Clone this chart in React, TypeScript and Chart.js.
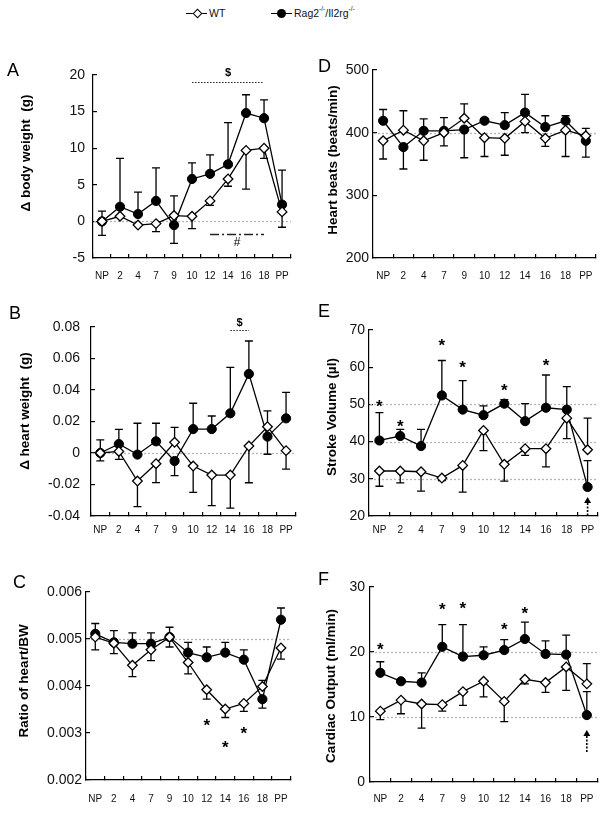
import React, { useEffect, useRef } from 'react';
import { Chart, registerables } from 'chart.js';

Chart.register(...registerables);

const FONT = "'Liberation Sans', Arial, Helvetica, sans-serif";

const categories = ['NP', '2', '4', '7', '9', '10', '12', '14', '16', '18', 'PP'];

// Panel A: Δ body weight (g)
const aWT = [0, 0.7, -0.5, -0.3, 0.8, 0.7, 2.8, 5.8, 9.7, 10.0, 1.3];
const aWTErr = [-1.9, 0, 0, -1.1, 2.7, -1.7, -0.6, -1.0, -5.3, -1.4, -2.1];
const aRag = [0, 2.0, 1.0, 2.8, -0.5, 5.8, 6.5, 7.8, 14.8, 14.1, 2.3];
const aRagErr = [1.4, 6.6, 3.0, 4.5, -2.5, 2.2, 2.6, 5.7, 2.5, 2.5, 4.7];

// Panel D: Heart beats (beats/min)
const dWT = [387, 404, 387, 400, 423, 392, 391, 418, 391, 404, 395];
const dWTErr = [-29, 31, -31, -21, 23, -30, -27, -18, -13, -42, 12];
const dRag = [419, 377, 403, 403, 405, 419, 412, 432, 409, 419, 387];
const dRagErr = [18, -35, 19, 21, -45, 3, 20, 29, 18, 8, -26];

// Panel B: Δ heart weight (g)
const bWT = [0, 0.001, -0.0178, -0.0068, 0.0068, -0.0083, -0.014, -0.014, 0.0044, 0.0167, 0.0015];
const bWTErr = [-0.005, -0.005, -0.0163, -0.012, 0.0095, -0.0167, -0.0194, -0.021, -0.0233, 0.01, -0.0117];
const bRag = [0, 0.0057, -0.001, 0.0074, -0.0051, 0.0152, 0.0152, 0.0252, 0.0502, 0.0104, 0.022];
const bRagErr = [0.0083, 0.0093, 0.0199, 0.0115, -0.0093, 0.0164, 0.0083, 0.0292, 0.0209, -0.0112, 0.0165];

// Panel E: Stroke Volume (µl)
const eWT = [32.1, 32.1, 31.9, 30.2, 33.6, 43.0, 33.9, 38.1, 38.1, 46.3, 37.8];
const eWTErr = [-4.1, -3.2, -5.2, -0.7, -7.2, -5.4, -4.5, -1.8, -4.9, -5.5, 8.5];
const eRag = [40.3, 41.5, 38.8, 52.4, 48.6, 47.1, 50.2, 45.5, 49.1, 48.6, 27.8];
const eRagErr = [7.5, 1.8, 4.5, 9.4, 7.8, 2.5, 1.1, 4.7, 8.8, 6.2, 7.1];
const eStarCats = ['NP', '2', '7', '9', '12', '16'];
const eStarY = [50.5, 45.2, 66.9, 61.0, 54.8, 61.7];

// Panel C: Ratio of heart/BW
const cWT = [0.00504, 0.00491, 0.00444, 0.00477, 0.00504, 0.0045, 0.00392, 0.00351, 0.00363, 0.00399, 0.00481];
const cWTErr = [-0.00027, -0.00022, -0.00024, -0.00023, -0.00021, -0.00024, -0.0002, -0.00018, -0.00017, 0.00013, -0.00024];
const cRag = [0.00511, 0.00493, 0.0049, 0.0049, 0.00504, 0.00471, 0.00461, 0.00471, 0.00456, 0.00372, 0.00541];
const cRagErr = [0.00022, 0.00025, 0.00023, 0.00023, 0.00021, 0.00022, 0.00022, 0.00022, 0.00021, -0.00019, 0.00025];
const cStarCats = ['12', '14', '16'];
const cStarY = [0.00324, 0.00278, 0.00307];

// Panel F: Cardiac Output (ml/min)
const fWT = [10.9, 12.6, 12.0, 11.9, 13.9, 15.5, 12.4, 15.8, 15.3, 17.7, 15.1];
const fWTErr = [-1.3, -2.1, -3.7, -1.0, -2.1, -2.4, -3.1, -0.7, -1.5, -3.6, 3.1];
const fRag = [16.8, 15.5, 15.3, 20.8, 19.3, 19.5, 20.3, 22.0, 19.7, 19.6, 10.3];
const fRagErr = [1.7, 0.4, 1.5, 3.4, 4.9, 1.3, 1.6, 2.6, 2.0, 3.0, 3.6];
const fStarCats = ['NP', '7', '9', '12', '14'];
const fStarY = [21.0, 27.2, 27.4, 24.1, 26.5];

type Sig = { from: string; to: string; y: number; label: string; labelY: number; kind: 'dot' | 'dashdot' };
type Arrow = { cat: string; tip: number; end: number };
type PanelDef = {
  key: string;
  box: { x: number; y: number; w: number; h: number };
  plot: { left: number; right: number; top: number; bottom: number };
  yMin: number; yMax: number; yStep: number; dec: number;
  wt: number[]; wtErr: number[]; rag: number[]; ragErr: number[];
  refLines: number[];
  letter: { x: number; y: number };
  title: { t: string; x: number; y: number };
  yGap: number; xOff: number;
  starCats?: string[]; starY?: number[];
  sigs?: Sig[];
  arrow?: Arrow;
};

const panels: PanelDef[] = [
  {
    key: 'A', box: { x: 0, y: 50, w: 305, h: 250 }, plot: { left: 93, right: 302, top: 75, bottom: 258 },
    yMin: -5, yMax: 20, yStep: 5, dec: 0, wt: aWT, wtErr: aWTErr, rag: aRag, ragErr: aRagErr,
    refLines: [0], letter: { x: 7, y: 76 }, title: { t: 'Δ body weight  (g)', x: 26, y: 153 },
    yGap: 8, xOff: 18,
    sigs: [
      { from: '10', to: '18', y: 19.05, label: '$', labelY: 20.3, kind: 'dot' },
      { from: '12', to: '18', y: -1.72, label: '#', labelY: -2.85, kind: 'dashdot' },
    ],
  },
  {
    key: 'D', box: { x: 305, y: 50, w: 304, h: 250 }, plot: { left: 373, right: 598, top: 70, bottom: 258 },
    yMin: 200, yMax: 500, yStep: 100, dec: 0, wt: dWT, wtErr: dWTErr, rag: dRag, ragErr: dRagErr,
    refLines: [400], letter: { x: 318, y: 72 }, title: { t: 'Heart beats (beats/min)', x: 333, y: 160 },
    yGap: 4, xOff: 18,
  },
  {
    key: 'B', box: { x: 0, y: 300, w: 305, h: 245 }, plot: { left: 91, right: 302, top: 327, bottom: 516 },
    yMin: -0.04, yMax: 0.08, yStep: 0.02, dec: 2, wt: bWT, wtErr: bWTErr, rag: bRag, ragErr: bRagErr,
    refLines: [0], letter: { x: 9, y: 319 }, title: { t: 'Δ heart weight  (g)', x: 25, y: 411 },
    yGap: 11, xOff: 14,
    sigs: [{ from: '14', to: '16', y: 0.0781, label: '$', labelY: 0.0826, kind: 'dot' }],
  },
  {
    key: 'E', box: { x: 305, y: 300, w: 304, h: 245 }, plot: { left: 369, right: 598, top: 330, bottom: 516 },
    yMin: 20, yMax: 70, yStep: 10, dec: 0, wt: eWT, wtErr: eWTErr, rag: eRag, ragErr: eRagErr,
    refLines: [30, 40, 50], letter: { x: 318, y: 317 }, title: { t: 'Stroke Volume (µl)', x: 332, y: 417 },
    yGap: 4, xOff: 14, starCats: eStarCats, starY: eStarY,
    arrow: { cat: 'PP', tip: 25.1, end: 20 },
  },
  {
    key: 'C', box: { x: 0, y: 545, w: 305, h: 268 }, plot: { left: 86, right: 297, top: 592, bottom: 780 },
    yMin: 0.002, yMax: 0.006, yStep: 0.001, dec: 3, wt: cWT, wtErr: cWTErr, rag: cRag, ragErr: cRagErr,
    refLines: [0.005], letter: { x: 13, y: 588 }, title: { t: 'Ratio of heart/BW', x: 24, y: 681 },
    yGap: 4, xOff: 19, starCats: cStarCats, starY: cStarY,
  },
  {
    key: 'F', box: { x: 305, y: 545, w: 304, h: 268 }, plot: { left: 370, right: 598, top: 587, bottom: 782 },
    yMin: 0, yMax: 30, yStep: 10, dec: 0, wt: fWT, wtErr: fWTErr, rag: fRag, ragErr: fRagErr,
    refLines: [10, 20], letter: { x: 318, y: 585 }, title: { t: 'Cardiac Output (ml/min)', x: 331, y: 686 },
    yGap: 5, xOff: 17, starCats: fStarCats, starY: fStarY,
    arrow: { cat: 'PP', tip: 8.0, end: 4.6 },
  },
];

function makeDecor(p: PanelDef) {
  const ox = p.box.x;
  const oy = p.box.y;
  return {
    id: 'decor' + p.key,
    beforeDatasetsDraw(chart: any) {
      const { ctx, chartArea, scales } = chart;
      const x = scales.x;
      const y = scales.y;
      ctx.save();
      ctx.strokeStyle = '#b4b4b4';
      ctx.lineWidth = 1.3;
      ctx.setLineDash([2, 2]);
      for (const v of p.refLines) {
        const py = Math.round(y.getPixelForValue(v)) + 0.5;
        ctx.beginPath();
        ctx.moveTo(chartArea.left + 1, py);
        ctx.lineTo(chartArea.right, py);
        ctx.stroke();
      }
      ctx.restore();
      ctx.save();
      ctx.strokeStyle = '#000';
      ctx.lineWidth = 1.3;
      const series: [number[], number[]][] = [[p.wt, p.wtErr], [p.rag, p.ragErr]];
      for (const [vals, errs] of series) {
        vals.forEach((v, i) => {
          const e = errs[i];
          if (!e) return;
          const px = x.getPixelForValue(i);
          const p0 = y.getPixelForValue(v);
          const p1 = y.getPixelForValue(v + e);
          ctx.beginPath();
          ctx.moveTo(px, p0);
          ctx.lineTo(px, p1);
          ctx.moveTo(px - 4, p1);
          ctx.lineTo(px + 4, p1);
          ctx.stroke();
        });
      }
      ctx.restore();
    },
    afterDraw(chart: any) {
      const { ctx, scales } = chart;
      const x = scales.x;
      const y = scales.y;
      ctx.save();
      ctx.fillStyle = '#000';
      // panel letter
      ctx.font = `18px ${FONT}`;
      ctx.textAlign = 'left';
      ctx.textBaseline = 'alphabetic';
      ctx.fillText(p.key, p.letter.x - ox, p.letter.y - oy);
      // y title
      ctx.save();
      ctx.translate(p.title.x - ox, p.title.y - oy);
      ctx.rotate(-Math.PI / 2);
      ctx.font = `bold 13.5px ${FONT}`;
      ctx.textAlign = 'center';
      ctx.textBaseline = 'middle';
      ctx.fillText(p.title.t, 0, 0);
      ctx.restore();
      // stars
      if (p.starCats && p.starY) {
        ctx.font = `bold 17px ${FONT}`;
        ctx.textAlign = 'center';
        ctx.textBaseline = 'alphabetic';
        p.starCats.forEach((c, i) => {
          const px = x.getPixelForValue(categories.indexOf(c));
          const py = y.getPixelForValue(p.starY![i]);
          ctx.fillText('*', px, py + 17 * 0.57);
        });
      }
      // significance lines
      for (const s of p.sigs || []) {
        const x0 = x.getPixelForValue(categories.indexOf(s.from));
        const x1 = x.getPixelForValue(categories.indexOf(s.to));
        const py = Math.round(y.getPixelForValue(s.y)) + 0.5;
        ctx.save();
        ctx.strokeStyle = '#222';
        if (s.kind === 'dot') {
          ctx.lineWidth = 1;
          ctx.setLineDash([1.5, 1.5]);
        } else {
          ctx.lineWidth = 1.3;
          ctx.setLineDash([9, 3, 2, 3]);
        }
        ctx.beginPath();
        ctx.moveTo(x0, py);
        ctx.lineTo(x1, py);
        ctx.stroke();
        ctx.restore();
        ctx.font = s.label === '$' ? `bold 11px ${FONT}` : `12px ${FONT}`;
        ctx.textAlign = 'center';
        ctx.textBaseline = 'middle';
        ctx.fillText(s.label, (x0 + x1) / 2, y.getPixelForValue(s.labelY));
      }
      // arrow
      if (p.arrow) {
        const px = x.getPixelForValue(categories.indexOf(p.arrow.cat));
        const tip = y.getPixelForValue(p.arrow.tip);
        const end = y.getPixelForValue(p.arrow.end);
        ctx.beginPath();
        ctx.moveTo(px, tip);
        ctx.lineTo(px - 3.5, tip + 6);
        ctx.lineTo(px + 3.5, tip + 6);
        ctx.closePath();
        ctx.fill();
        ctx.save();
        ctx.strokeStyle = '#000';
        ctx.lineWidth = 1.6;
        ctx.setLineDash([2, 1.5]);
        ctx.beginPath();
        ctx.moveTo(px, tip + 6);
        ctx.lineTo(px, end);
        ctx.stroke();
        ctx.restore();
      }
      ctx.restore();
    },
  };
}

function Panel({ p }: { p: PanelDef }) {
  const ref = useRef<HTMLCanvasElement>(null);
  useEffect(() => {
    if (!ref.current) return;
    const yW = p.plot.left - p.box.x;
    const xH = p.box.y + p.box.h - p.plot.bottom;
    const chart = new Chart(ref.current, {
      type: 'line',
      data: {
        labels: categories,
        datasets: [
          {
            label: 'WT',
            data: p.wt,
            borderColor: '#000',
            borderWidth: 1.3,
            pointStyle: 'rectRot',
            pointRadius: 4.8,
            pointBackgroundColor: '#fff',
            pointBorderColor: '#000',
            pointBorderWidth: 1.3,
            tension: 0,
          },
          {
            label: 'Rag2-/-/Il2rg-/-',
            data: p.rag,
            borderColor: '#000',
            borderWidth: 1.3,
            pointStyle: 'circle',
            pointRadius: 4.6,
            pointBackgroundColor: '#000',
            pointBorderColor: '#000',
            pointBorderWidth: 1,
            tension: 0,
          },
        ],
      },
      options: {
        responsive: false,
        animation: false,
        devicePixelRatio: 1,
        layout: {
          padding: {
            left: 0,
            top: p.plot.top - p.box.y,
            right: p.box.x + p.box.w - p.plot.right,
            bottom: 0,
          },
        },
        plugins: { legend: { display: false }, tooltip: { enabled: false } },
        scales: {
          x: {
            type: 'category',
            offset: true,
            grid: { drawOnChartArea: false, color: '#000', tickLength: -4, lineWidth: 1.2, offset: true },
            border: { display: true, color: '#000', width: 1.2 },
            ticks: {
              autoSkip: false,
              maxRotation: 0,
              minRotation: 0,
              color: '#111',
              font: { size: 10, family: FONT },
              padding: p.xOff - 2,
            },
            afterFit: (s: any) => {
              s.height = xH;
            },
          },
          y: {
            min: p.yMin,
            max: p.yMax,
            grid: { drawOnChartArea: false, color: '#000', tickLength: -4, lineWidth: 1.2 },
            border: { display: true, color: '#000', width: 1.2 },
            ticks: {
              stepSize: p.yStep,
              color: '#111',
              font: { size: 14, family: FONT },
              padding: p.yGap + 4,
              callback: (v: any) => String(+Number(v).toFixed(p.dec + 1)),
            },
            afterFit: (s: any) => {
              s.width = yW;
            },
          },
        },
      },
      plugins: [makeDecor(p)],
    } as any);
    return () => chart.destroy();
  }, [p]);
  return (
    <canvas
      ref={ref}
      width={p.box.w}
      height={p.box.h}
      style={{ position: 'absolute', left: p.box.x, top: p.box.y, width: p.box.w, height: p.box.h }}
    />
  );
}

function Legend() {
  const txt: React.CSSProperties = {
    position: 'absolute',
    font: `10.5px ${FONT}`,
    color: '#111',
    lineHeight: '12px',
    top: 7,
    whiteSpace: 'nowrap',
  };
  const sup: React.CSSProperties = { fontSize: '6.5px', verticalAlign: 'top', lineHeight: '8px', position: 'relative', top: -2 };
  return (
    <>
      <div style={{ position: 'absolute', left: 186, top: 12.5, width: 21, height: 1.5, background: '#000' }} />
      <div
        style={{
          position: 'absolute',
          left: 194,
          top: 10,
          width: 5,
          height: 5,
          background: '#fff',
          border: '1.3px solid #000',
          transform: 'rotate(45deg)',
        }}
      />
      <div style={{ ...txt, left: 209 }}>WT</div>
      <div style={{ position: 'absolute', left: 271, top: 12.5, width: 21, height: 1.5, background: '#000' }} />
      <div
        style={{
          position: 'absolute',
          left: 277,
          top: 9,
          width: 9,
          height: 9,
          borderRadius: '50%',
          background: '#000',
        }}
      />
      <div style={{ ...txt, left: 294 }}>
        Rag2<span style={sup}>-/-</span>/Il2rg<span style={sup}>-/-</span>
      </div>
    </>
  );
}

export default function App() {
  return (
    <div style={{ position: 'absolute', left: 0, top: 0, width: 609, height: 813, background: '#fff', overflow: 'hidden' }}>
      <Legend />
      {panels.map((p) => (
        <Panel key={p.key} p={p} />
      ))}
    </div>
  );
}
